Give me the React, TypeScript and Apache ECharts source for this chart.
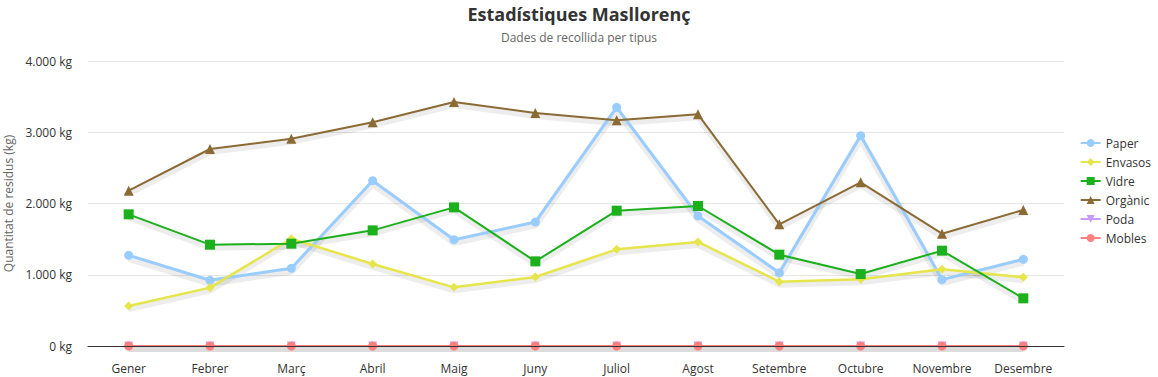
import React, { useEffect, useRef } from "react";
import * as echarts from "echarts";

const months = ["Gener", "Febrer", "Març", "Abril", "Maig", "Juny", "Juliol", "Agost", "Setembre", "Octubre", "Novembre", "Desembre"];
const paper = [1273, 922, 1090, 2320, 1492, 1740, 3350, 1825, 1029, 2952, 931, 1217];
const envasos = [561, 819, 1506, 1151, 823, 968, 1357, 1460, 903, 936, 1076, 964];
const vidre = [1848, 1422, 1436, 1623, 1946, 1188, 1899, 1965, 1282, 1010, 1338, 669];
const organic = [2180, 2765, 2910, 3140, 3425, 3270, 3168, 3252, 1708, 2297, 1576, 1909];
const poda = [0, 0, 0, 0, 0, 0, 0, 0, 0, 0, 0, 0];
const mobles = [0, 0, 0, 0, 0, 0, 0, 0, 0, 0, 0, 0];

const fmt = (v: number) => {
  const s = String(Math.round(v));
  return s.replace(/\B(?=(\d{3})+(?!\d))/g, ".") + " kg";
};

export default function App() {
  const ref = useRef<HTMLDivElement>(null);
  useEffect(() => {
    document.body.style.margin = "0";
    if (!ref.current) return;
    const chart = echarts.init(ref.current, null, { renderer: "svg" });
    const font = "'Open Sans', 'Noto Sans', sans-serif";
    const mk = (name: string, data: number[], color: string, symbol: string, size: number, width: number) => ({
      name,
      type: "line",
      data,
      symbol,
      symbolSize: size,
      showSymbol: true,
      z: 3,
      itemStyle: { color },
      lineStyle: { color, width },
    });
    const shadow = (data: number[], width: number) => ({
      type: "line",
      data,
      xAxisIndex: 1,
      yAxisIndex: 1,
      showSymbol: false,
      silent: true,
      z: 1,
      lineStyle: { color: "rgba(0,0,0,0.07)", width },
      tooltip: { show: false },
    });
    const allSeries = [paper, envasos, vidre, organic, poda, mobles];
    const widths = [7, 6, 6, 6, 6, 6];
    chart.setOption({
      animation: false,
      textStyle: { fontFamily: font },
      title: {
        text: "Estadístiques Masllorenç",
        subtext: "Dades de recollida per tipus",
        left: "center",
        top: 0,
        itemGap: 8,
        textStyle: { fontSize: 18, fontWeight: "bold", color: "#333", fontFamily: font },
        subtextStyle: { fontSize: 12, color: "#666", fontFamily: font },
      },
      legend: {
        orient: "vertical",
        right: 2,
        top: 132,
        itemWidth: 20,
        itemHeight: 10,
        itemGap: 7,
        textStyle: { fontSize: 12, color: "#333", fontFamily: font },
        data: ["Paper", "Envasos", "Vidre", "Orgànic", "Poda", "Mobles"],
      },
      grid: [
        { left: 88, right: 94, top: 61, bottom: 31, containLabel: false, outerBoundsMode: "none" },
        { left: 88, right: 94, top: 64, bottom: 28, containLabel: false, outerBoundsMode: "none" },
      ],
      xAxis: [
        {
          type: "category",
          data: months,
          boundaryGap: true,
          z: 4,
          axisLine: { lineStyle: { color: "#333" } },
          axisTick: { show: false },
          axisLabel: { color: "#333", fontSize: 12, margin: 16, fontFamily: font },
        },
        { type: "category", data: months, boundaryGap: true, gridIndex: 1, show: false },
      ],
      yAxis: [
        {
          type: "value",
          min: 0,
          max: 4000,
          interval: 1000,
          name: "Quantitat de residus (kg)",
          nameLocation: "middle",
          nameGap: 72,
          nameTextStyle: { color: "#666", fontSize: 12, fontFamily: font },
          axisLine: { show: false },
          axisTick: { show: false },
          axisLabel: { color: "#333", fontSize: 12, margin: 16, formatter: fmt, fontFamily: font },
          splitLine: { lineStyle: { color: "#e6e6e6" } },
        },
        { type: "value", min: 0, max: 4000, interval: 1000, gridIndex: 1, show: false, splitLine: { show: false } },
      ],
      series: [
        ...allSeries.map((d, i) => shadow(d, widths[i])),
        mk("Paper", paper, "#99ccff", "circle", 9, 3),
        mk("Envasos", envasos, "#e6e64c", "diamond", 9, 2.5),
        mk("Vidre", vidre, "#1cb01c", "rect", 10, 2),
        mk("Orgànic", organic, "#8b6a34", "triangle", 10, 2),
        mk("Poda", poda, "#c79cff", "path://M0,0 L10,0 L5,10 Z", 9, 2),
        mk("Mobles", mobles, "#ff7f7f", "circle", 9, 2),
      ],
    });
    return () => chart.dispose();
  }, []);
  return <div ref={ref} style={{ width: 1158, height: 377 }} />;
}
